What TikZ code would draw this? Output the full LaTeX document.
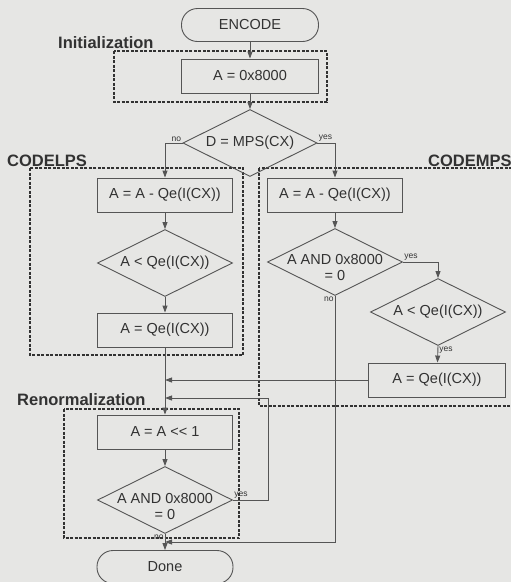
\documentclass[tikz,border=0pt]{standalone}
\usepackage{fontspec}
\setmainfont{Liberation Sans}
\usetikzlibrary{arrows.meta,shapes.geometric,positioning}
\definecolor{scanbg}{RGB}{230,230,228}
\definecolor{ink}{RGB}{50,50,50}
\definecolor{wire}{RGB}{85,85,85}

\begin{document}
\begin{tikzpicture}[x=1pt,y=-1pt,
    every node/.style={text=ink,font=\fontsize{14.5}{16}\selectfont},
    proc/.style={draw=wire,line width=0.9pt,minimum width=135pt,minimum height=34pt,inner sep=0pt},
    term/.style={proc,rounded corners=16pt,minimum width=137pt,minimum height=33pt},
    decision/.style={draw=wire,line width=0.9pt,diamond,inner sep=0pt,minimum width=135pt,minimum height=67pt},
    group/.style={draw=ink,line width=1.1pt,dash pattern=on 3pt off 1.5pt},
    grouplabel/.style={anchor=base west,inner sep=0pt,font=\fontsize{16.5}{18}\selectfont\bfseries},
    tag/.style={inner sep=1pt,font=\fontsize{8.5}{9}\selectfont},
    flow/.style={draw=wire,line width=0.9pt,-{Triangle[length=7pt,width=5pt]}}]
    \path[use as bounding box,fill=scanbg] (0,0) rectangle (511,582);
    \clip (0,0) rectangle (511,582);

    % dashed groups
    \draw[group] (114,51) rectangle (327,102);
    \draw[group] (30,168) rectangle (243,355);
    \draw[group] (259,168) rectangle (530,406);
    \draw[group] (64,409) rectangle (239,538);
    \node[grouplabel] (initlbl) at (58,48) {Initialization};
    \node[grouplabel] (lpslbl) at (7,166) {CODELPS};
    \node[grouplabel] (mpslbl) at (428,166) {CODEMPS};
    \node[grouplabel] (renlbl) at (17,405) {Renormalization};

    % steps
    \node[term] (enc) at (250,25) {ENCODE};
    \node[proc,minimum width=137pt] (init) at (250,76) {A = 0x8000};
    \node[decision,minimum width=134pt,label={center:D = MPS(CX)}] (mps) at (250,143) {};
    \node[proc] (lps1) at (165,195) {A = A - Qe(I(CX))};
    \node[decision,label={center:A < Qe(I(CX))}] (lpsd) at (165,263) {};
    \node[proc] (lps2) at (165,330) {A = Qe(I(CX))};
    \node[proc] (mps1) at (335,195) {A = A - Qe(I(CX))};
    \node[decision,label={[align=center,yshift=-6pt]center:A AND 0x8000\\= 0}] (mpsd) at (335,262) {};
    \node[decision,label={center:A < Qe(I(CX))}] (mpsd2) at (438,312) {};
    \node[proc,minimum width=137pt] (mps2) at (437,380) {A = Qe(I(CX))};
    \node[proc] (shift) at (165,432) {A = A {<}{<} 1};
    \node[decision,label={[align=center,yshift=-7pt]center:A AND 0x8000\\= 0}] (rend) at (165,500) {};
    \node[term,minimum width=136pt] (done) at (165,567) {Done};

    \coordinate (j1) at (165,380);
    \coordinate (j2) at (165,398);
    \coordinate (j3) at (165,542);
    \coordinate (loop) at (268,398);

    % connectors
    \draw[flow] (enc) -- (init);
    \draw[flow] (init) -- (mps);
    \draw[flow] (mps.west) node[tag,anchor=south east]{no} -| (lps1);
    \draw[flow] (mps.east) node[tag,anchor=south west]{yes} -| (mps1);
    \draw[flow] (lps1) -- (lpsd);
    \draw[flow] (lpsd) -- (lps2);
    \draw[flow] (lps2) -- (shift);
    \draw[flow] (mps1) -- (mpsd);
    \draw[flow] (mpsd.east) node[tag,anchor=south west]{yes} -| (mpsd2);
    \draw[flow] (mpsd2.south) node[tag,anchor=north west]{yes} -- (mps2);
    \draw[flow] (mps2.west) -- (j1);
    \draw[flow] (mpsd.south) node[tag,anchor=north east]{no} |- (j3);
    \draw[flow] (shift) -- (rend);
    \draw[flow] (rend.east) node[tag,anchor=south west]{yes} -| (loop) -- (j2);
    \draw[flow] (rend.south) node[tag,anchor=north east]{no} -- (done);
  \end{tikzpicture}
\end{document}
